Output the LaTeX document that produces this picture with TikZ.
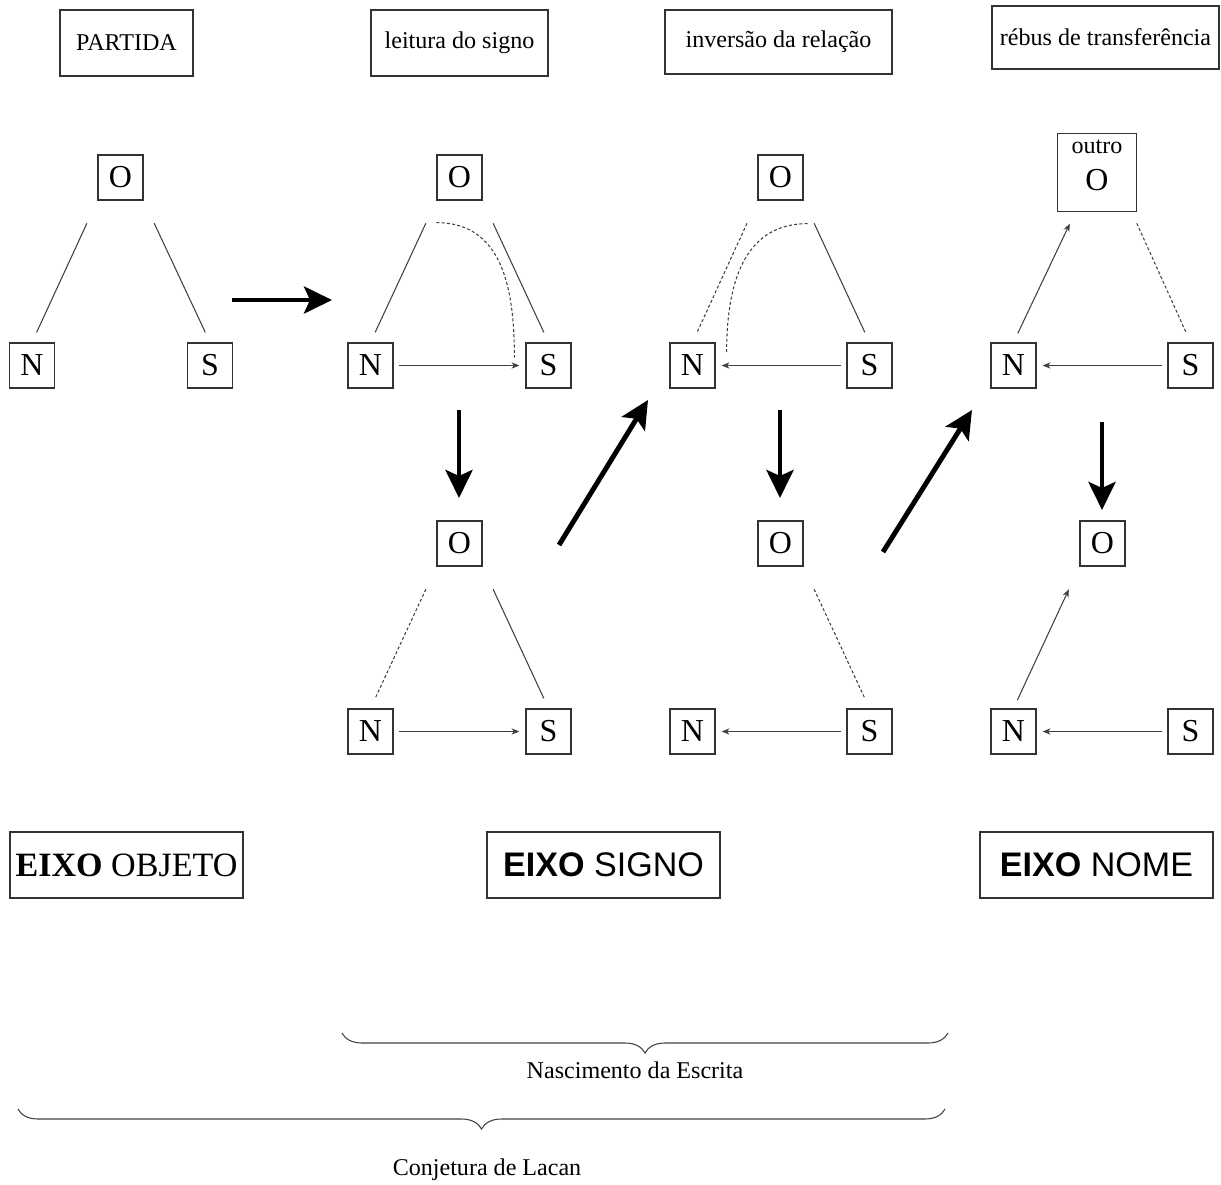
\documentclass[tikz,border=0pt]{standalone}
\usepackage{fontspec}
\setmainfont{Liberation Serif}
\newfontfamily\arialfont{Liberation Sans}
\usetikzlibrary{positioning, arrows.meta, calc, decorations.pathreplacing}

\tikzset{
  letra/.style={draw=black!80, line width=0.7pt, minimum size=0.9cm, inner sep=0pt, font=\fontsize{18.2}{20}\selectfont},
  rotulo/.style={draw=black!80, line width=0.7pt, inner sep=0pt, minimum height=1.32cm, font=\fontsize{13.7}{16}\selectfont},
  eixo/.style={draw=black!80, line width=0.7pt, minimum width=4.66cm, minimum height=1.32cm, inner sep=0pt, font=\fontsize{19.4}{22}\selectfont},
  texto/.style={inner sep=0pt, font=\fontsize{13.7}{16}\selectfont},
  liga/.style={black!75, line width=0.6pt},
  tracejado/.style={liga, dash pattern=on 1.7pt off 1.3pt},
  seta/.style={liga, -{Stealth[length=4.5pt,width=3.6pt]}},
  setagrossa/.style={line width=2.8pt, -{Stealth[length=0.56cm,width=0.54cm,inset=0.12cm]}},
  chave/.style={black!75, line width=0.6pt, decorate, decoration={brace, mirror, amplitude=0.4cm}},
}

\begin{document}
\begin{tikzpicture}[x=0.02cm, y=-0.02cm]
\useasboundingbox (0,0) rectangle (1221,1184);

% titulos
\node[rotulo, minimum width=2.66cm] (partida) at (126.5,43) {PARTIDA};
\node[rotulo, minimum width=3.54cm] (leitura) at (459.5,43) {leitura do signo};
\node[rotulo, minimum width=4.54cm, minimum height=1.28cm] (inversao) at (778.5,42) {inversão da relação};
\node[rotulo, minimum width=4.54cm, minimum height=1.26cm] (rebus) at (1105.5,37.5) {rébus de transferência};

% partida
\node[letra] (O1) at (120.5,177.5) {O};
\node[letra] (N1) at (32,365.5) {N};
\node[letra] (S1) at (210,365.5) {S};
\draw[liga, shorten <=0.5cm, shorten >=0.22cm] (O1.south west) -- (N1.north);
\draw[liga, shorten <=0.5cm, shorten >=0.22cm] (O1.south east) -- (S1.north);

% leitura do signo
\node[letra] (O2) at (459.5,177.5) {O};
\node[letra] (N2) at (370.5,365.5) {N};
\node[letra] (S2) at (548.5,365.5) {S};
\draw[liga, shorten <=0.5cm, shorten >=0.22cm] (O2.south west) -- (N2.north);
\draw[liga, shorten <=0.5cm, shorten >=0.22cm] (O2.south east) -- (S2.north);
\draw[tracejado] ([yshift=-0.44cm]O2.south west) to[out=0, in=90, looseness=1.1] ([xshift=-0.22cm, yshift=0.16cm]S2.west);
\draw[seta, shorten <=0.1cm, shorten >=0.12cm] (N2) -- (S2);

\node[letra] (O3) at (459.5,543.5) {O};
\node[letra] (N3) at (370.5,731.5) {N};
\node[letra] (S3) at (548.5,731.5) {S};
\draw[tracejado, shorten <=0.5cm, shorten >=0.22cm] (O3.south west) -- (N3.north);
\draw[liga, shorten <=0.5cm, shorten >=0.22cm] (O3.south east) -- (S3.north);
\draw[seta, shorten <=0.1cm, shorten >=0.12cm] (N3) -- (S3);

% inversao da relacao
\node[letra] (O4) at (780.5,177.5) {O};
\node[letra] (N4) at (692.5,365.5) {N};
\node[letra] (S4) at (869.5,365.5) {S};
\draw[tracejado, shorten <=0.5cm, shorten >=0.22cm] (O4.south west) -- (N4.north);
\draw[liga, shorten <=0.5cm, shorten >=0.22cm] (O4.south east) -- (S4.north);
\draw[tracejado] ([xshift=0.08cm, yshift=-0.46cm]O4.south east) to[out=180, in=90, looseness=1.1] ([xshift=0.22cm, yshift=-0.2cm]N4.north east);
\draw[seta, shorten <=0.1cm, shorten >=0.12cm] (S4) -- (N4);

\node[letra] (O5) at (780.5,543.5) {O};
\node[letra] (N5) at (692.5,731.5) {N};
\node[letra] (S5) at (869.5,731.5) {S};
\draw[tracejado, shorten <=0.5cm, shorten >=0.22cm] (O5.south east) -- (S5.north);
\draw[seta, shorten <=0.1cm, shorten >=0.12cm] (S5) -- (N5);

% rebus de transferencia
\node[letra, minimum size=1.57cm, text depth=0.3cm, align=center] (O6) at (1097,172.5) {{\fontsize{13.7}{16}\selectfont outro}\\[1pt] O};
\node[letra] (N6) at (1013.5,365.5) {N};
\node[letra] (S6) at (1190.5,365.5) {S};
\draw[seta, shorten <=0.2cm, shorten >=0.25cm] (N6.north) -- ([xshift=0.36cm]O6.south west);
\draw[tracejado, shorten <=0.24cm, shorten >=0.2cm] ([xshift=-0.1cm]O6.south east) -- (S6.north);
\draw[seta, shorten <=0.1cm, shorten >=0.12cm] (S6) -- (N6);

\node[letra] (O7) at (1102.5,543.5) {O};
\node[letra] (N7) at (1013.5,731.5) {N};
\node[letra] (S7) at (1190.5,731.5) {S};
\draw[seta, shorten <=0.18cm, shorten >=0.5cm] (N7.north) -- (O7.south west);
\draw[seta, shorten <=0.1cm, shorten >=0.12cm] (S7) -- (N7);

% setas grossas
\coordinate (g1a) at (232,300);  \coordinate (g1b) at (332,300);
\coordinate (g2a) at (459,410);  \coordinate (g2b) at (459,498);
\coordinate (g3a) at (559,545);  \coordinate (g3b) at (648,400);
\coordinate (g4a) at (780,410);  \coordinate (g4b) at (780,498);
\coordinate (g5a) at (883,552);  \coordinate (g5b) at (972,410);
\coordinate (g6a) at (1102,422); \coordinate (g6b) at (1102,510);
\draw[setagrossa] (g1a) -- (g1b);
\draw[setagrossa] (g2a) -- (g2b);
\draw[setagrossa] (g3a) -- (g3b);
\draw[setagrossa] (g4a) -- (g4b);
\draw[setagrossa] (g5a) -- (g5b);
\draw[setagrossa] (g6a) -- (g6b);

% eixos
\node[eixo] (eobjeto) at (126.5,865) {\textbf{EIXO} OBJETO};
\node[eixo] (esigno) at (603.5,865) {\arialfont\textbf{EIXO} SIGNO};
\node[eixo] (enome) at (1096.5,865) {\arialfont\textbf{EIXO} NOME};

% chaves
\coordinate (nasc1) at (342,1033); \coordinate (nasc2) at (948,1033);
\coordinate (conj1) at (18,1109);  \coordinate (conj2) at (945,1109);
\draw[chave] (nasc1) -- (nasc2);
\draw[chave] (conj1) -- (conj2);
\node[texto] (nascimento) at (635,1070) {Nascimento da Escrita};
\node[texto] (conjetura) at (487,1170) {Conjetura de Lacan};
\end{tikzpicture}
\end{document}
